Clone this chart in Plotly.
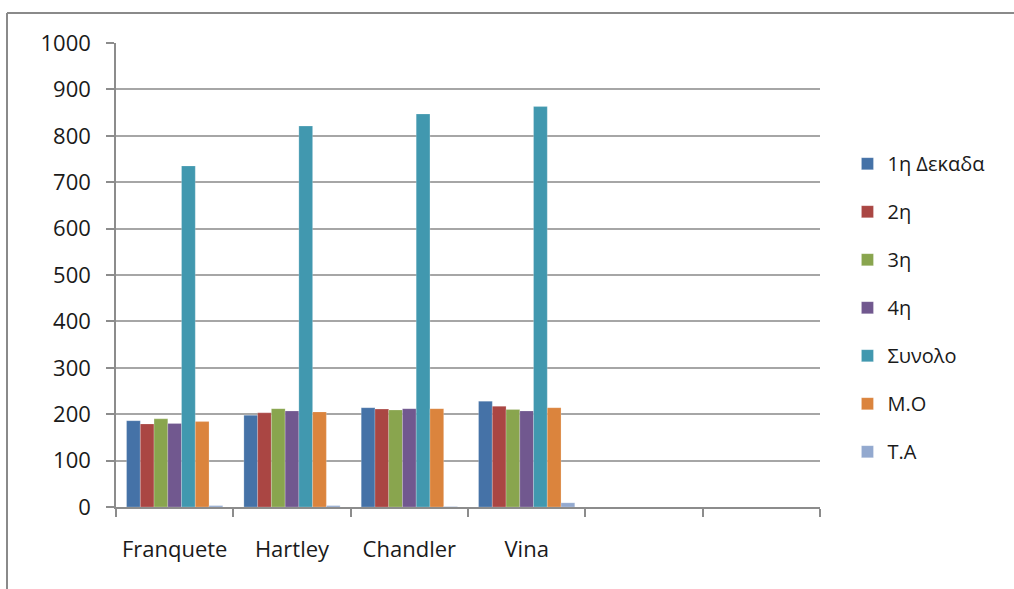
import plotly.graph_objects as go

# Categories (the last two slots are empty on the axis)
categories = ["Franquete", "Hartley", "Chandler", "Vina", " ", "  "]

series_names = ["1η Δεκαδα", "2η", "3η", "4η", "Συνολο", "Μ.Ο", "Τ.Α"]

dekada_1 = [186, 198, 214, 228, None, None]
dekada_2 = [179, 203, 211, 217, None, None]
dekada_3 = [190, 212, 209, 210, None, None]
dekada_4 = [180, 207, 212, 207, None, None]
synolo = [735, 821, 847, 863, None, None]
mesos_oros = [184, 205, 212, 214, None, None]
typ_apoklisi = [3, 3, 1, 9, None, None]

series_values = [dekada_1, dekada_2, dekada_3, dekada_4, synolo, mesos_oros, typ_apoklisi]
colors = ["#4572A7", "#AA4643", "#89A54E", "#71588F", "#4198AF", "#DB843D", "#93A9CF"]

y_ticks = list(range(0, 1001, 100))

fig = go.Figure()
for i, (name, vals, col) in enumerate(zip(series_names, series_values, colors)):
    fig.add_trace(go.Bar(
        x=categories, y=vals, name=name, legendgroup=f"g{i}",
        marker=dict(color=col, line=dict(color="rgba(255,255,255,0.35)", width=0.6)),
    ))

FONT = "Open Sans, DejaVu Sans, sans-serif"
AXIS_GRAY = "#8c8c8c"

fig.update_layout(
    width=1014, height=589, autosize=False,
    margin=dict(l=116, r=194, t=43, b=82, pad=0),
    paper_bgcolor="white", plot_bgcolor="white",
    barmode="group", bargap=0.18, bargroupgap=0,
    font=dict(family=FONT, color="#1a1a1a"),
    legend=dict(
        x=1.039, xanchor="left", y=0.782, yanchor="top",
        font=dict(size=20, family=FONT, color="#1a1a1a"),
        tracegroupgap=19, bgcolor="rgba(0,0,0,0)",
    ),
    xaxis=dict(
        type="category", categoryorder="array", categoryarray=categories,
        range=[-0.5, 5.5], showgrid=False, showline=True, linecolor=AXIS_GRAY,
        linewidth=1.5, ticks="outside", tickson="boundaries", ticklen=8,
        tickcolor=AXIS_GRAY, tickwidth=1.5, tickfont=dict(size=22),
        ticklabelstandoff=22,
    ),
    yaxis=dict(
        range=[0, 1000], tickvals=y_ticks, showgrid=True, gridcolor="#a6a6a6",
        gridwidth=1.5, zeroline=False, showline=True, linecolor=AXIS_GRAY,
        linewidth=1.5, ticks="outside", ticklen=8, tickcolor=AXIS_GRAY,
        tickwidth=1.5, tickfont=dict(size=22), ticklabelstandoff=11,
    ),
    shapes=[
        # chart frame (left and top edges)
        dict(type="line", xref="paper", yref="paper",
             x0=(7 - 116) / 704, x1=(1020 - 116) / 704,
             y0=(507 - 13) / 464, y1=(507 - 13) / 464,
             line=dict(color="#8a8a8a", width=2)),
        dict(type="line", xref="paper", yref="paper",
             x0=(7 - 116) / 704, x1=(7 - 116) / 704,
             y0=(507 - 13) / 464, y1=(507 - 600) / 464,
             line=dict(color="#8a8a8a", width=2)),
    ],
)

fig.write_html("out.html")
